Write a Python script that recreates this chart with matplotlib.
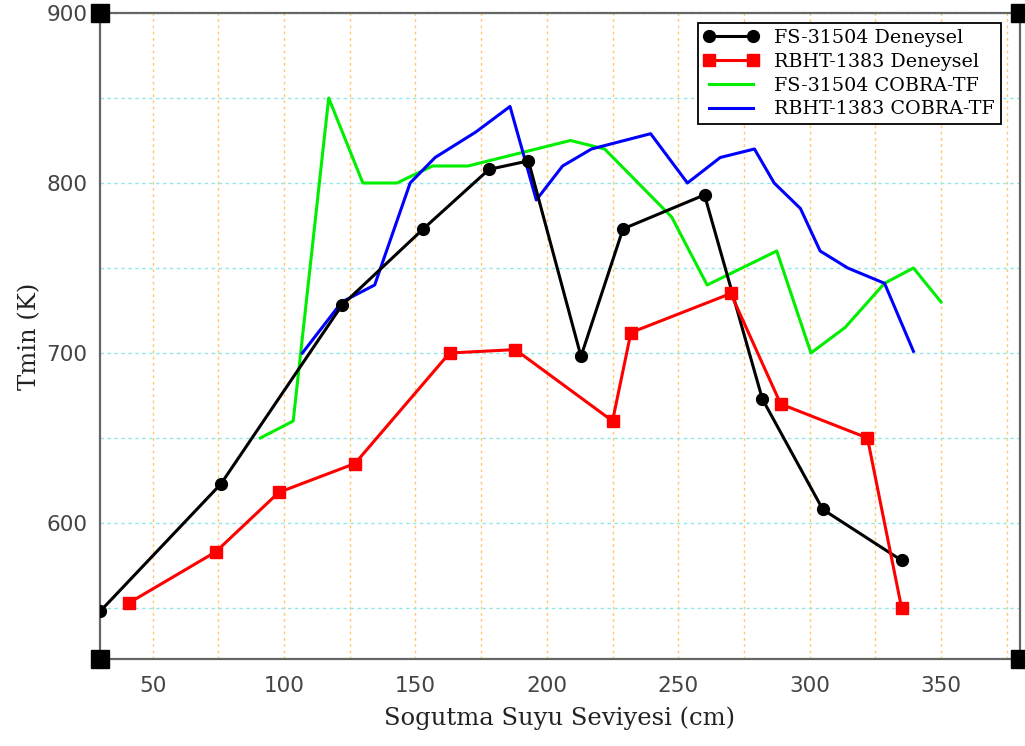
import matplotlib
matplotlib.use("Agg")
import matplotlib.pyplot as plt
from matplotlib.ticker import MultipleLocator

# FS-31504 experimental
fs_exp_x = [30, 76, 122, 153, 178, 193, 213, 229, 260, 282, 305, 335]
fs_exp_y = [548, 623, 728, 773, 808, 813, 698, 773, 793, 673, 608, 578]

# RBHT-1383 experimental
rb_exp_x = [41, 74, 98, 127, 163, 188, 225, 232, 270, 289, 322, 335]
rb_exp_y = [553, 583, 618, 635, 700, 702, 660, 712, 735, 670, 650, 550]

# FS-31504 COBRA-TF
fs_cob_x = [91, 103.5, 117, 130, 143, 156.5, 170, 209, 222, 247.5, 261, 287.5, 300.5, 313.5, 328.5, 339.5, 350]
fs_cob_y = [650, 660, 850, 800, 800, 810, 810, 825, 820, 780, 740, 760, 700, 715, 741, 750, 730]

# RBHT-1383 COBRA-TF
rb_cob_x = [107, 122, 134.5, 148, 157.5, 173, 186, 196, 206, 217, 239.5, 253.5, 266, 279, 286.5, 296.5, 304, 314.5, 328.5, 339.5]
rb_cob_y = [700, 730, 740, 800, 815, 830, 845, 790, 810, 820, 829, 800, 815, 820, 800, 785, 760, 750, 741, 701]

fig = plt.figure(figsize=(10.25, 7.46), dpi=100)
ax = fig.add_axes([0.0976, 0.1166, 0.8974, 0.866])

ax.plot(fs_exp_x, fs_exp_y, color="black", lw=2.2, marker="o", ms=8.5,
        label="FS-31504 Deneysel", zorder=4)
ax.plot(rb_exp_x, rb_exp_y, color="#ff0000", lw=2.2, marker="s", ms=8.5,
        label="RBHT-1383 Deneysel", zorder=4)
ax.plot(fs_cob_x, fs_cob_y, color="#00ee00", lw=2.2,
        label="FS-31504 COBRA-TF", zorder=3)
ax.plot(rb_cob_x, rb_cob_y, color="#0000ff", lw=2.2,
        label="RBHT-1383 COBRA-TF", zorder=3)

ax.set_xlim(30, 380)
ax.set_ylim(520, 900)

ax.xaxis.set_major_locator(MultipleLocator(50))
ax.xaxis.set_minor_locator(MultipleLocator(25))
ax.yaxis.set_major_locator(MultipleLocator(100))
ax.yaxis.set_minor_locator(MultipleLocator(50))
ax.tick_params(which="both", length=0, labelsize=15.5, labelcolor="#444444")
ax.tick_params(axis="x", pad=12)
ax.tick_params(axis="y", pad=9)

ax.grid(axis="x", which="both", color="#ffc870", ls=(0, (2, 2.5)), lw=1.0)
ax.grid(axis="y", which="both", color="#90e8e8", ls=(0, (2.5, 2.5)), lw=1.0)
ax.set_axisbelow(True)

for s in ax.spines.values():
    s.set_color("#666666")
    s.set_linewidth(1.6)

# square caps at the frame corners
ax.plot([0, 0, 1, 1], [0, 1, 1, 0], ls="none", marker="s", ms=13,
        color="black", transform=ax.transAxes, clip_on=False, zorder=6)

serif = ["DejaVu Serif"]
ax.set_xlabel("Sogutma Suyu Seviyesi (cm)", fontsize=17.5, family=serif,
              color="#222222", labelpad=8)
ax.set_ylabel("Tmin (K)", fontsize=17.5, family=serif, color="#222222",
              labelpad=4)

leg = ax.legend(loc="upper right", bbox_to_anchor=(0.9835, 0.99), numpoints=2,
                handlelength=2.9, fancybox=False, framealpha=1,
                edgecolor="black", borderpad=0.3, labelspacing=0.3,
                handletextpad=0.8, borderaxespad=0.2,
                prop={"family": serif, "size": 13.8})
leg.get_frame().set_linewidth(1.3)

fig.savefig("out.png", dpi=100, facecolor="white")
